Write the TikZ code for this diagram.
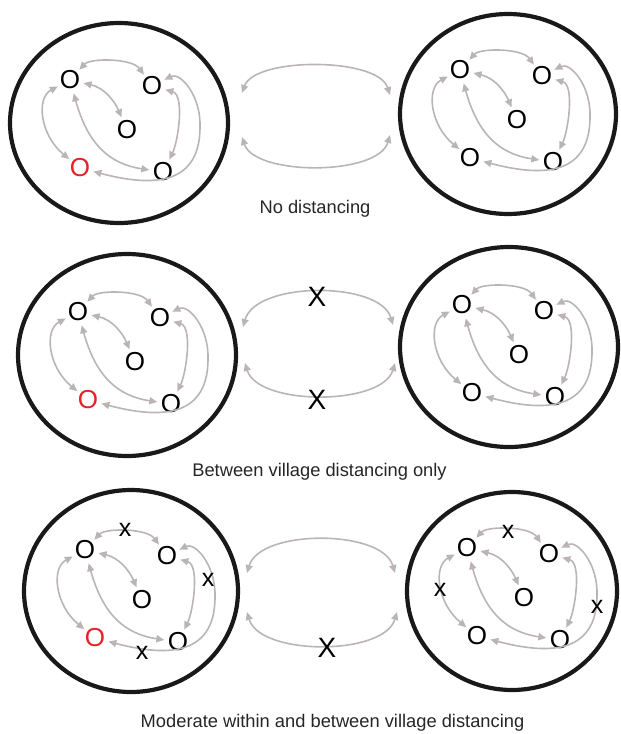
\documentclass[tikz,border=0pt]{standalone}
\usepackage{fontspec}
\setmainfont{Liberation Sans}
\usetikzlibrary{arrows.meta,shapes.geometric}
\definecolor{arrowgray}{RGB}{186,181,180}
\definecolor{ored}{RGB}{225,35,40}
\tikzset{
  onode/.style={circle, inner sep=0pt, minimum size=26pt, font=\fontsize{26}{30}\selectfont},
  xsmall/.style={inner sep=0pt, font=\fontsize{25}{30}\selectfont},
  xbig/.style={inner sep=0pt, font=\fontsize{28}{32}\selectfont},
  lbl/.style={inner sep=0pt, font=\fontsize{18.3}{22}\selectfont, text=black!85},
  village/.style={ellipse, draw=black!90, line width=4.2pt, inner sep=0pt, outer sep=0pt},
  garrow/.style={draw=arrowgray, line width=1.6pt,
     {Triangle[length=8pt,width=7pt]}-{Triangle[length=8pt,width=7pt]}},
}
\newcommand{\villagepic}[3]{%
\begin{scope}[shift={#2}]
  \node[onode] (#1a) at (0,0) {O};
  \node[onode] (#1b) at (82,6) {O};
  \node[onode] (#1c) at (57,50) {O};
  \node[onode,text=#3] (#1d) at (10,88) {O};
  \node[onode] (#1e) at (93,92) {O};
  \coordinate (#1m) at (130,47);
  \draw[garrow] (#1a) .. controls (20,-22) and (62,-22) .. (#1b);
  \draw[garrow] (#1a) .. controls (35,8) and (45,22) .. (#1c);
  \draw[garrow] (#1a) .. controls (-34,18) and (-30,55) .. (#1d);
  \draw[garrow] (#1a) .. controls (18,65) and (40,84) .. (#1e);
  \draw[garrow] (#1b) .. controls (115,15) and (108,62) .. (#1e);
  \draw[garrow] (#1b) .. controls (110,-8) and (131,15) .. (#1m)
                      .. controls (130,110) and (75,105) .. (#1d);
\end{scope}}
\begin{document}
\begin{tikzpicture}[x=1pt,y=-1pt]
\useasboundingbox (0,0) rectangle (621,734);
% ---------- row 1 ----------
\node[village, minimum width=218pt, minimum height=200pt] (v1l) at (119,123) {};
\node[village, minimum width=216pt, minimum height=200pt] (v1r) at (508,114) {};
\villagepic{pa}{(70,80)}{ored}
\villagepic{pb}{(460,70)}{black}
\coordinate (t1l) at (242,93);  \coordinate (t1r) at (390,95);
\coordinate (b1l) at (242,137); \coordinate (b1r) at (390,135);
\draw[garrow] (t1l) .. controls (255,57) and (378,57) .. (t1r);
\draw[garrow] (b1l) .. controls (255,176) and (378,176) .. (b1r);
\node[lbl, anchor=base] (lab1) at (315,213) {No distancing};
% ---------- row 2 ----------
\node[village, minimum width=218pt, minimum height=202pt] (v2l) at (127,355) {};
\node[village, minimum width=218pt, minimum height=200pt] (v2r) at (509,347) {};
\villagepic{qa}{(78,312)}{ored}
\villagepic{qb}{(462,305)}{black}
\coordinate (t2l) at (243,327);  \coordinate (t2r) at (393,325);
\coordinate (b2l) at (245,363);  \coordinate (b2r) at (395,363);
\draw[garrow] (t2l) .. controls (256,281) and (380,281) .. (t2r);
\draw[garrow] (b2l) .. controls (258,406) and (382,406) .. (b2r);
\node[xbig] (x2t) at (317,297) {X};
\node[xbig] (x2b) at (317,400) {X};
\node[lbl, anchor=base] (lab2) at (319.5,476) {Between village distancing only};
% ---------- row 3 ----------
\node[village, minimum width=214pt, minimum height=202pt] (v3l) at (131,591) {};
\node[village, minimum width=210pt, minimum height=198pt] (v3r) at (512,591) {};
\villagepic{ra}{(85,550)}{ored}
\villagepic{rb}{(467,548)}{black}
\node[xsmall] (x3a) at (125,530) {x};
\node[xsmall] (x3b) at (208,580) {x};
\node[xsmall] (x3c) at (142,653) {x};
\node[xsmall] (x3d) at (508,532) {x};
\node[xsmall] (x3e) at (440,590) {x};
\node[xsmall] (x3f) at (597,607) {x};
\coordinate (t3l) at (247,573);  \coordinate (t3r) at (395,573);
\coordinate (b3l) at (247,612);  \coordinate (b3r) at (397,612);
\draw[garrow] (t3l) .. controls (260,529) and (382,529) .. (t3r);
\draw[garrow] (b3l) .. controls (260,656) and (384,656) .. (b3r);
\node[xbig] (x3m) at (327,648) {X};
\node[lbl, anchor=base] (lab3) at (332.5,727) {Moderate within and between village distancing};
\end{tikzpicture}
\end{document}
